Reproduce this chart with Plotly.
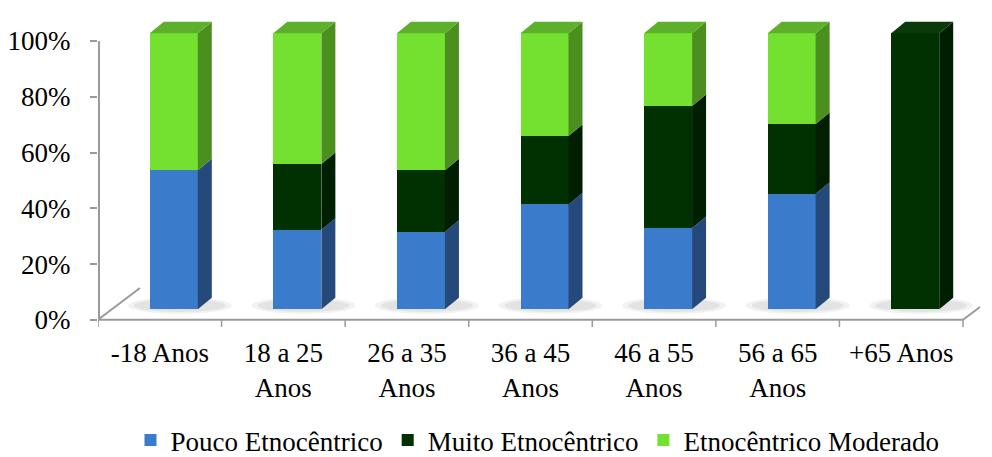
import plotly.graph_objects as go

# ---------------- data ----------------
categories = ["-18 Anos", "18 a 25<br>Anos", "26 a 35<br>Anos", "36 a 45<br>Anos",
              "46 a 55<br>Anos", "56 a 65<br>Anos", "+65 Anos"]
series_names = ["Pouco Etnocêntrico", "Muito Etnocêntrico", "Etnocêntrico Moderado"]
pouco = [50.4, 28.8, 28.1, 38.0, 29.5, 41.9, 0.0]
muito = [0.0, 23.8, 22.3, 24.8, 44.2, 25.2, 100.0]
moderado = [49.6, 47.4, 49.6, 37.2, 26.3, 32.9, 0.0]
y_tickvals = [0, 20, 40, 60, 80, 100]
y_ticktext = ["0%", "20%", "40%", "60%", "80%", "100%"]

# ---------------- styling / geometry ----------------
FONT = "Liberation Serif"
FS = 27
W, H = 992, 457
PLOT_LEFT, PLOT_RIGHT, PLOT_TOP, PLOT_BOTTOM = 98, 985, 18, 328
AX_LEFT_PX, AX_RIGHT_PX = 98, 963          # category area on the floor
Y0_PX, Y100_PX = 320, 41                    # wall axis (labels)
F0_PX, F100_PX = 309.3, 33.3                # front face of bars
n = len(categories)
kX = (AX_RIGHT_PX - AX_LEFT_PX) / n
kY = (Y0_PX - Y100_PX) / 100.0
kY2 = (F0_PX - F100_PX) / 100.0

x_range = [-0.5 + (PLOT_LEFT - AX_LEFT_PX) / kX, -0.5 + (PLOT_RIGHT - AX_LEFT_PX) / kX]
y_range = [(Y0_PX - PLOT_BOTTOM) / kY, (Y0_PX - PLOT_TOP) / kY]
y2_range = [(F0_PX - PLOT_BOTTOM) / kY2, (F0_PX - PLOT_TOP) / kY2]

BAR_W = 48 / kX
BAR_OFF = -10 / kX
DX = 14 / kX
DY = 11.5 / kY2

front = ["#3a7bcb", "#013001", "#74e030"]
side = ["#25497b", "#001e00", "#4b901f"]
top = ["#3569ad", "#0a3a0a", "#5cb02a"]
AXIS_COLOR = "#9a9a9a"

series = [pouco, muito, moderado]
xs = list(range(n))

fig = go.Figure()
for name, vals, col in zip(series_names, series, front):
    fig.add_trace(go.Bar(
        x=xs, y=vals, name=name, yaxis="y2",
        width=BAR_W, offset=BAR_OFF,
        marker=dict(color=col, line=dict(width=0)),
        hoverinfo="skip",
    ))

shapes = []
for i in xs:
    xl = i + BAR_OFF
    xr = xl + BAR_W
    for grow, alpha in ((0, 0.05), (-6, 0.06)):
        shapes.append(dict(type="circle", xref="x", yref="y2", layer="below",
                           x0=xl - (22 + grow) / kX, x1=xr + (34 + grow) / kX,
                           y0=(F0_PX - 314 - grow / 3) / kY2, y1=(F0_PX - 297 + grow / 3) / kY2,
                           fillcolor=f"rgba(0,0,0,{alpha})", line=dict(width=0)))
for i in xs:
    xl = i + BAR_OFF
    xr = xl + BAR_W
    base = 0.0
    last_col = None
    for s, vals in enumerate(series):
        v = vals[i]
        if v <= 0:
            continue
        b, t = base, base + v
        shapes.append(dict(type="path", xref="x", yref="y2",
                           path=f"M{xr},{b} L{xr},{t} L{xr + DX},{t + DY} L{xr + DX},{b + DY} Z",
                           fillcolor=side[s], line=dict(width=0)))
        base = t
        last_col = s
    if last_col is not None:
        shapes.append(dict(type="path", xref="x", yref="y2",
                           path=f"M{xl},{base} L{xr},{base} L{xr + DX},{base + DY} L{xl + DX},{base + DY} Z",
                           fillcolor=top[last_col], line=dict(width=0)))

xline_y = 0.3 / kY
shapes.append(dict(type="line", xref="x", yref="y", x0=-0.5 + 1 / kX, x1=-0.5 + 1 / kX,
                   y0=0, y1=100, line=dict(color=AXIS_COLOR, width=2)))
shapes.append(dict(type="line", xref="x", yref="y", x0=-0.5, x1=n - 0.5,
                   y0=xline_y, y1=xline_y, line=dict(color=AXIS_COLOR, width=2)))
shapes.append(dict(type="line", xref="x", yref="y", x0=-0.5, x1=-0.5 + 42 / kX,
                   y0=xline_y, y1=32 / kY, line=dict(color=AXIS_COLOR, width=2)))
shapes.append(dict(type="line", xref="x", yref="y", x0=n - 0.5, x1=n - 0.5 + 17 / kX,
                   y0=xline_y, y1=13 / kY, line=dict(color=AXIS_COLOR, width=2)))
for k in range(n + 1):
    xb = -0.5 + k
    shapes.append(dict(type="line", xref="x", yref="y", x0=xb, x1=xb,
                       y0=0, y1=-7 / kY, line=dict(color=AXIS_COLOR, width=1.5)))

PH = PLOT_BOTTOM - PLOT_TOP
PW = PLOT_RIGHT - PLOT_LEFT
fig.update_layout(
    width=W, height=H,
    margin=dict(l=PLOT_LEFT, r=W - PLOT_RIGHT, t=PLOT_TOP, b=H - PLOT_BOTTOM, pad=0,
                autoexpand=False),
    paper_bgcolor="white", plot_bgcolor="white",
    barmode="stack", bargap=0,
    font=dict(family=FONT, size=FS, color="black"),
    xaxis=dict(range=x_range, tickmode="array", tickvals=xs, ticktext=categories,
               showgrid=False, zeroline=False, showline=False, ticks="", automargin=False,
               ticklabelstandoff=6, tickfont=dict(family=FONT, size=FS, color="black")),
    yaxis=dict(range=y_range, tickmode="array", tickvals=y_tickvals, ticktext=y_ticktext,
               showgrid=False, zeroline=False, showline=False, ticks="outside", automargin=False,
               ticklen=7, tickwidth=2, tickcolor=AXIS_COLOR, ticklabelstandoff=14,
               tickfont=dict(family=FONT, size=FS, color="black")),
    yaxis2=dict(range=y2_range, overlaying="y", visible=False, showgrid=False, zeroline=False),
    legend=dict(orientation="h", x=(537.5 - PLOT_LEFT) / PW, xanchor="center",
                y=-(H + 8 - PLOT_BOTTOM) / PH, yanchor="bottom",
                traceorder="normal", font=dict(family=FONT, size=FS, color="black"),
                bgcolor="rgba(0,0,0,0)"),
    shapes=shapes,
    showlegend=True,
)

fig.write_html("out.html")
